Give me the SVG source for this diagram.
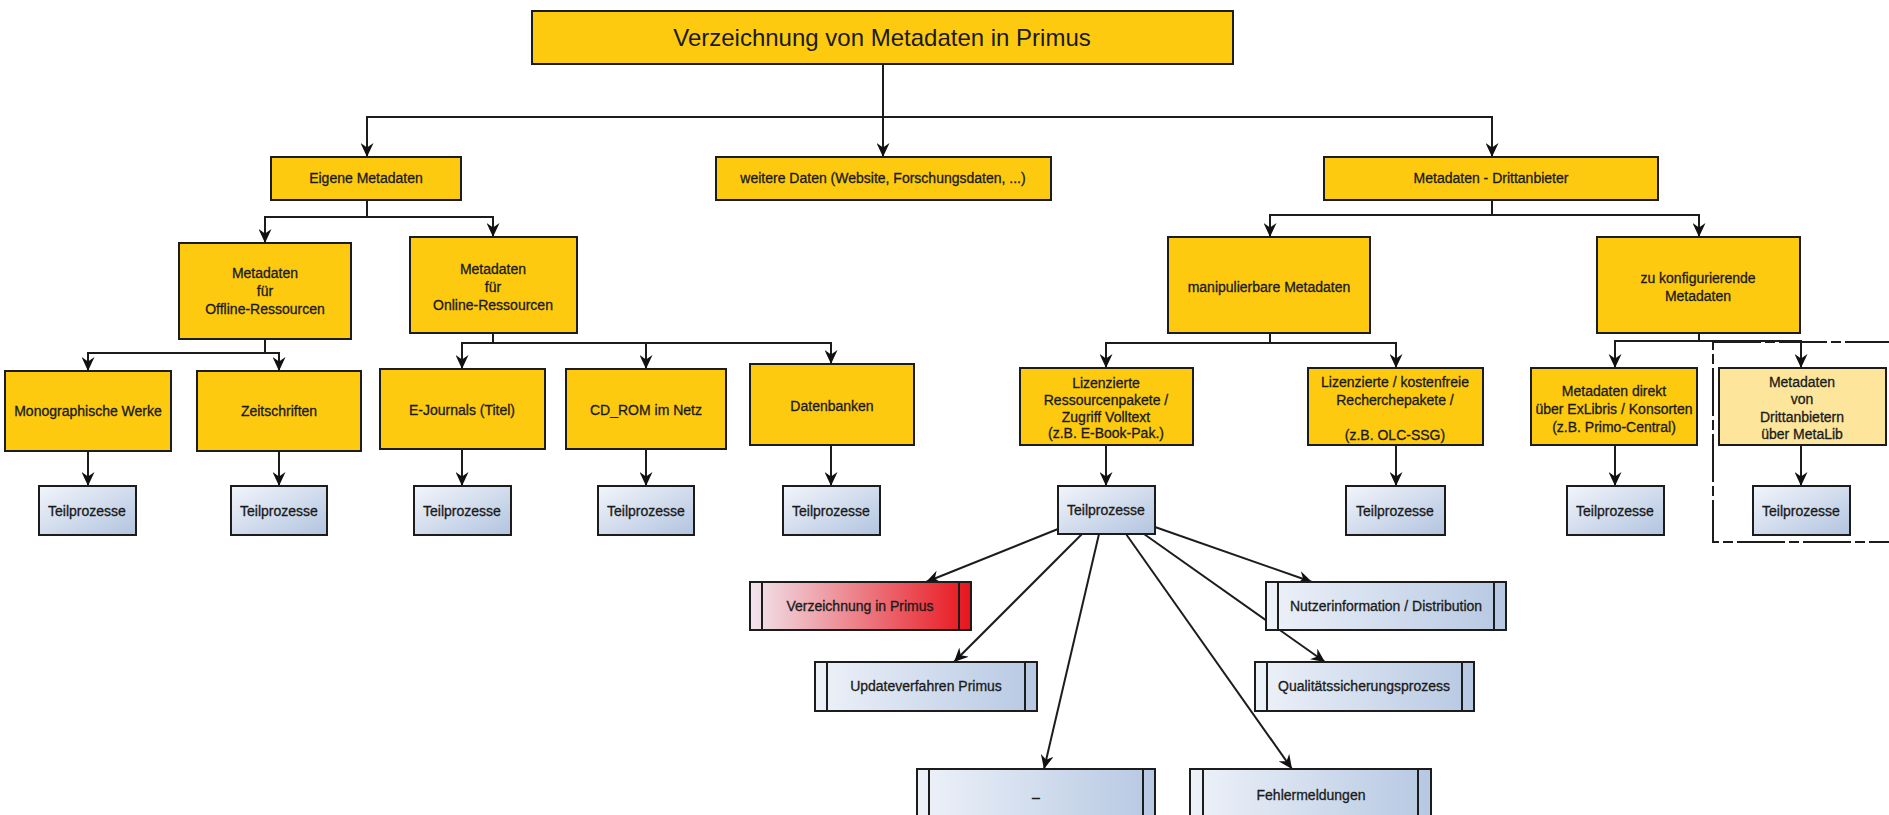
<svg xmlns="http://www.w3.org/2000/svg" width="1889" height="815" viewBox="0 0 1889 815">
<style>
.y{fill:#FDCA10;stroke:#1c1c1c;stroke-width:2}
.yl{fill:#FDE59C;stroke:#1c1c1c;stroke-width:2}
.tp{fill:url(#gT);stroke:#1c1c1c;stroke-width:2}
.pr{fill:url(#gP);stroke:#1c1c1c;stroke-width:2}
.pr2{fill:url(#gR);stroke:#1c1c1c;stroke-width:2}
.in{stroke:#1c1c1c;stroke-width:2}
text{font-family:"Liberation Sans",Arial,sans-serif;font-size:14px;fill:#1a1a1a;text-anchor:middle;stroke:#1a1a1a;stroke-width:0.3}
.t{font-size:24px;stroke-width:0}
.c line,.c path{stroke:#1c1c1c;stroke-width:2;fill:none}
.a{marker-end:url(#ar)}
</style>
<defs>
<marker id="ar" markerUnits="userSpaceOnUse" markerWidth="14" markerHeight="13" refX="14" refY="6.5" orient="auto" viewBox="0 0 14 13">
<path d="M0,0 L14,6.5 L0,13 L4.5,6.5 z" fill="#111"/>
</marker>
<linearGradient id="gT" x1="0" y1="0" x2="1" y2="1">
<stop offset="0" stop-color="#F2F5FB"/><stop offset="1" stop-color="#B2C4DF"/>
</linearGradient>
<linearGradient id="gP" x1="0" y1="0" x2="1" y2="0">
<stop offset="0" stop-color="#EEF2F9"/><stop offset="1" stop-color="#B6C8E2"/>
</linearGradient>
<linearGradient id="gR" x1="0" y1="0" x2="1" y2="0">
<stop offset="0" stop-color="#F1E6EE"/><stop offset="1" stop-color="#E8141C"/>
</linearGradient>
</defs>
<rect width="1889" height="815" fill="#fff"/>

<g class="c" id="connectors">
<line x1="883" y1="64" x2="883" y2="157" class="a"/>
<path d="M367,157 V117 H1492 V157"/>
<line x1="367" y1="145" x2="367" y2="157" class="a"/>
<line x1="1492" y1="145" x2="1492" y2="157" class="a"/>
<path d="M367,200 V217 M265,243 V217 H493 V237"/>
<line x1="265" y1="231" x2="265" y2="243" class="a"/>
<line x1="493" y1="225" x2="493" y2="237" class="a"/>
<path d="M265,339 V353 M88,371 V353 H279 V371"/>
<line x1="88" y1="359" x2="88" y2="371" class="a"/>
<line x1="279" y1="359" x2="279" y2="371" class="a"/>
<path d="M493,333 V343 M462,369 V343 H831 V364 M646,343 V369"/>
<line x1="462" y1="357" x2="462" y2="369" class="a"/>
<line x1="646" y1="357" x2="646" y2="369" class="a"/>
<line x1="831" y1="352" x2="831" y2="364" class="a"/>
<line x1="88" y1="451" x2="88" y2="486" class="a"/>
<line x1="279" y1="451" x2="279" y2="486" class="a"/>
<line x1="462" y1="449" x2="462" y2="486" class="a"/>
<line x1="646" y1="449" x2="646" y2="486" class="a"/>
<line x1="831" y1="445" x2="831" y2="486" class="a"/>
<path d="M1492,200 V215 M1270,237 V215 H1699 V237"/>
<line x1="1270" y1="225" x2="1270" y2="237" class="a"/>
<line x1="1699" y1="225" x2="1699" y2="237" class="a"/>
<path d="M1270,333 V343 M1106,368 V343 H1396 V368"/>
<line x1="1106" y1="356" x2="1106" y2="368" class="a"/>
<line x1="1396" y1="356" x2="1396" y2="368" class="a"/>
<path d="M1699,333 V341 M1615,368 V341 H1801 V368"/>
<line x1="1615" y1="356" x2="1615" y2="368" class="a"/>
<line x1="1801" y1="356" x2="1801" y2="368" class="a"/>
<line x1="1106" y1="445" x2="1106" y2="486" class="a"/>
<line x1="1396" y1="445" x2="1396" y2="486" class="a"/>
<line x1="1615" y1="445" x2="1615" y2="486" class="a"/>
<line x1="1801" y1="445" x2="1801" y2="486" class="a"/>
<line x1="1058" y1="529" x2="926" y2="582" class="a"/>
<line x1="1082" y1="534" x2="954" y2="662" class="a"/>
<line x1="1099" y1="534" x2="1044" y2="769" class="a"/>
<line x1="1126" y1="534" x2="1292" y2="769" class="a"/>
<line x1="1144" y1="534" x2="1325" y2="662" class="a"/>
<line x1="1155" y1="527" x2="1312" y2="582" class="a"/>
<rect x="1713" y="342" width="200" height="200" fill="none" stroke="#1c1c1c" stroke-width="2" stroke-dasharray="48 4 10 4"/>
</g>

<g id="title"><rect class="y" x="532" y="11" width="701" height="53"/><text class="t" x="882" y="46">Verzeichnung von Metadaten in Primus</text></g>
<g id="eigene"><rect class="y" x="271" y="157" width="190" height="43"/><text x="366" y="183">Eigene Metadaten</text></g>
<g id="weitere"><rect class="y" x="716" y="157" width="335" height="43"/><text x="883" y="183">weitere Daten (Website, Forschungsdaten, ...)</text></g>
<g id="dritt"><rect class="y" x="1324" y="157" width="334" height="43"/><text x="1491" y="183">Metadaten - Drittanbieter</text></g>

<g id="offline"><rect class="y" x="179" y="243" width="172" height="96"/><text x="265" y="278">Metadaten</text><text x="265" y="296">für</text><text x="265" y="314">Offline-Ressourcen</text></g>
<g id="online"><rect class="y" x="410" y="237" width="167" height="96"/><text x="493" y="274">Metadaten</text><text x="493" y="292">für</text><text x="493" y="310">Online-Ressourcen</text></g>
<g id="manip"><rect class="y" x="1168" y="237" width="202" height="96"/><text x="1269" y="292">manipulierbare Metadaten</text></g>
<g id="zukonf"><rect class="y" x="1597" y="237" width="203" height="96"/><text x="1698" y="283">zu konfigurierende</text><text x="1698" y="301">Metadaten</text></g>

<g id="mono"><rect class="y" x="5" y="371" width="166" height="80"/><text x="88" y="416">Monographische Werke</text></g>
<g id="zeit"><rect class="y" x="197" y="371" width="164" height="80"/><text x="279" y="416">Zeitschriften</text></g>
<g id="ejour"><rect class="y" x="380" y="369" width="165" height="80"/><text x="462" y="415">E-Journals (Titel)</text></g>
<g id="cdrom"><rect class="y" x="566" y="369" width="160" height="80"/><text x="646" y="415">CD_ROM im Netz</text></g>
<g id="datenb"><rect class="y" x="750" y="364" width="164" height="81"/><text x="832" y="411">Datenbanken</text></g>
<g id="lizres"><rect class="y" x="1020" y="368" width="173" height="77"/><text x="1106" y="388">Lizenzierte</text><text x="1106" y="405">Ressourcenpakete /</text><text x="1106" y="422">Zugriff Volltext</text><text x="1106" y="438">(z.B. E-Book-Pak.)</text></g>
<g id="lizkost"><rect class="y" x="1308" y="368" width="175" height="77"/><text x="1395" y="387">Lizenzierte / kostenfreie</text><text x="1395" y="405">Recherchepakete /</text><text x="1395" y="440">(z.B. OLC-SSG)</text></g>
<g id="direkt"><rect class="y" x="1531" y="368" width="166" height="77"/><text x="1614" y="396">Metadaten direkt</text><text x="1614" y="414">über ExLibris / Konsorten</text><text x="1614" y="432">(z.B. Primo-Central)</text></g>
<g id="metalib"><rect class="yl" x="1719" y="368" width="167" height="77"/><text x="1802" y="387">Metadaten</text><text x="1802" y="404">von</text><text x="1802" y="422">Drittanbietern</text><text x="1802" y="439">über MetaLib</text></g>

<g id="tp1"><rect class="tp" x="39" y="486" width="97" height="49"/><text x="87" y="516">Teilprozesse</text></g>
<g id="tp2"><rect class="tp" x="231" y="486" width="96" height="49"/><text x="279" y="516">Teilprozesse</text></g>
<g id="tp3"><rect class="tp" x="414" y="486" width="97" height="49"/><text x="462" y="516">Teilprozesse</text></g>
<g id="tp4"><rect class="tp" x="598" y="486" width="96" height="49"/><text x="646" y="516">Teilprozesse</text></g>
<g id="tp5"><rect class="tp" x="783" y="486" width="97" height="49"/><text x="831" y="516">Teilprozesse</text></g>
<g id="tp6"><rect class="tp" x="1058" y="486" width="97" height="48"/><text x="1106" y="515">Teilprozesse</text></g>
<g id="tp7"><rect class="tp" x="1346" y="486" width="99" height="49"/><text x="1395" y="516">Teilprozesse</text></g>
<g id="tp8"><rect class="tp" x="1567" y="486" width="97" height="49"/><text x="1615" y="516">Teilprozesse</text></g>
<g id="tp9"><rect class="tp" x="1753" y="486" width="97" height="49"/><text x="1801" y="516">Teilprozesse</text></g>

<g id="verz"><rect class="pr2" x="750" y="582" width="221" height="48"/><line class="in" x1="762" y1="582" x2="762" y2="630"/><line class="in" x1="959" y1="582" x2="959" y2="630"/><text x="860" y="611">Verzeichnung in Primus</text></g>
<g id="update"><rect class="pr" x="815" y="662" width="222" height="49"/><line class="in" x1="827" y1="662" x2="827" y2="711"/><line class="in" x1="1025" y1="662" x2="1025" y2="711"/><text x="926" y="691">Updateverfahren Primus</text></g>
<g id="dash"><rect class="pr" x="917" y="769" width="238" height="60"/><line class="in" x1="929" y1="769" x2="929" y2="829"/><line class="in" x1="1143" y1="769" x2="1143" y2="829"/><text x="1036" y="802">–</text></g>
<g id="fehler"><rect class="pr" x="1190" y="769" width="241" height="60"/><line class="in" x1="1203" y1="769" x2="1203" y2="829"/><line class="in" x1="1418" y1="769" x2="1418" y2="829"/><text x="1311" y="800">Fehlermeldungen</text></g>
<g id="nutzer"><rect class="pr" x="1266" y="582" width="240" height="48"/><line class="in" x1="1278" y1="582" x2="1278" y2="630"/><line class="in" x1="1494" y1="582" x2="1494" y2="630"/><text x="1386" y="611">Nutzerinformation / Distribution</text></g>
<g id="quali"><rect class="pr" x="1255" y="662" width="219" height="49"/><line class="in" x1="1267" y1="662" x2="1267" y2="711"/><line class="in" x1="1462" y1="662" x2="1462" y2="711"/><text x="1364" y="691">Qualitätssicherungsprozess</text></g>
</svg>
